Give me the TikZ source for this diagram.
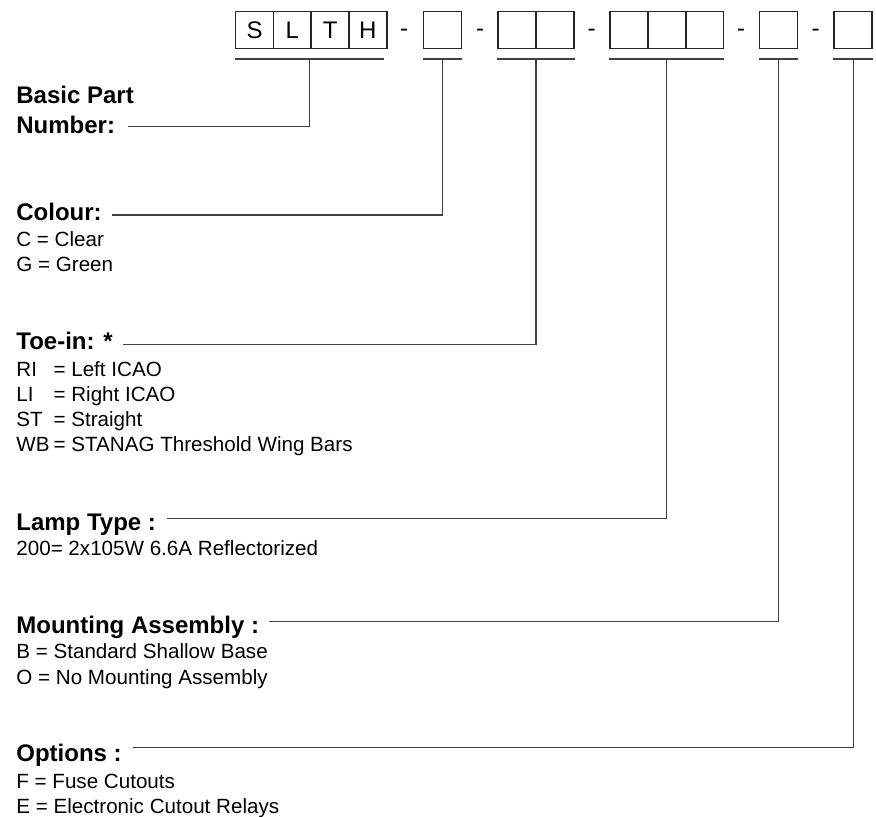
\documentclass[tikz,border=0pt]{standalone}
\usepackage{fontspec}
\setmainfont{Liberation Sans}
\begin{document}
\begin{tikzpicture}[x=0.5pt,y=-0.5pt,
    cell/.style={draw=black!85,line width=0.8pt,minimum width=19pt,minimum height=18.4pt,inner sep=0pt,font=\fontsize{12}{14}\selectfont},
    sep/.style={anchor=base,inner sep=0pt,font=\fontsize{12}{14}\selectfont},
    head/.style={anchor=base west,inner sep=0pt,font=\fontsize{12}{14}\selectfont\bfseries},
    item/.style={anchor=base west,inner sep=0pt,font=\fontsize{10.3}{12}\selectfont},
    lead/.style={draw=black!75,line width=0.7pt}]
\useasboundingbox (0,0) rectangle (876,817);
% code boxes
\foreach \l [count=\i] in {S,L,T,H}
    \node[cell] (s\i) at (216.85+37.75*\i,30) {\l};
\node[cell] (c1) at (442.5,30) {};
\foreach \i in {1,2}
    \node[cell] (t\i) at (479.2+37.8*\i,30) {};
\foreach \i in {1,2,3}
    \node[cell] (l\i) at (591.1+37.8*\i,30) {};
\node[cell] (m1) at (778.5,30) {};
\node[cell] (o1) at (853.2,30) {};
\foreach \x [count=\i] in {404,480,591.5,741,815.7}
    \node[sep] (d\i) at (\x,36.6) {-};
% underlines
\draw[lead] ([yshift=-5pt]s1.south west) -- ([yshift=-5pt,xshift=-2pt]s4.south east) coordinate[midway] (us);
\draw[lead] ([yshift=-5pt]c1.south west) -- ([yshift=-5pt]c1.south east) coordinate[midway] (uc);
\draw[lead] ([yshift=-5pt]t1.south west) -- ([yshift=-5pt]t2.south east) coordinate[midway] (ut);
\draw[lead] ([yshift=-5pt]l1.south west) -- ([yshift=-5pt]l3.south east) coordinate[midway] (ul);
\draw[lead] ([yshift=-5pt]m1.south west) -- ([yshift=-5pt]m1.south east) coordinate[midway] (um);
\draw[lead] ([yshift=-5pt]o1.south west) -- ([yshift=-5pt]o1.south east) coordinate[midway] (uo);
% headings
\node[head] (basic) at (16,103.3) {Basic Part};
\node[head] (number) at (16,133.3) {Number:};
\node[head] (colour) at (16,220.7) {Colour:};
\node[head] (toein) at (16,350) {Toe-in: *};
\node[head] (lamp) at (16,530) {Lamp Type :};
\node[head] (mount) at (16,633.3) {Mounting Assembly :};
\node[head] (opts) at (16,761.7) {Options :};
% items
\foreach \t [count=\i] in {{C = Clear},{G = Green}}
    \node[item] (colour-\i) at (16,246.7+25*\i-25) {\t};
\foreach \t [count=\i] in {{\makebox[18.6pt][l]{RI}= Left ICAO},{\makebox[18.6pt][l]{LI}= Right ICAO},
        {\makebox[18.6pt][l]{ST}= Straight},{\makebox[18.6pt][l]{WB}= STANAG Threshold Wing Bars}}
    \node[item] (toein-\i) at (16,376.7+25*\i-25) {\t};
\node[item] (lamp-1) at (16,555) {200= 2x105W 6.6A Reflectorized};
\foreach \t [count=\i] in {{B = Standard Shallow Base},{O = No Mounting Assembly}}
    \node[item] (mount-\i) at (16,658.8+25.5*\i-25.5) {\t};
\foreach \t [count=\i] in {{F = Fuse Cutouts},{E = Electronic Cutout Relays}}
    \node[item] (opts-\i) at (16,788+25*\i-25) {\t};
% leaders
\coordinate (basic-end) at (128,126.7);
\coordinate (colour-end) at (112,215);
\coordinate (toein-end) at (123,344.3);
\coordinate (lamp-end) at (167,518.3);
\coordinate (mount-end) at (269,621.7);
\coordinate (opts-end) at (133,747.7);
\draw[lead] (us) |- (basic-end);
\draw[lead] (uc) |- (colour-end);
\draw[lead] (ut) |- (toein-end);
\draw[lead] (ul) |- (lamp-end);
\draw[lead] (um) |- (mount-end);
\draw[lead] (uo) |- (opts-end);
\end{tikzpicture}
\end{document}
